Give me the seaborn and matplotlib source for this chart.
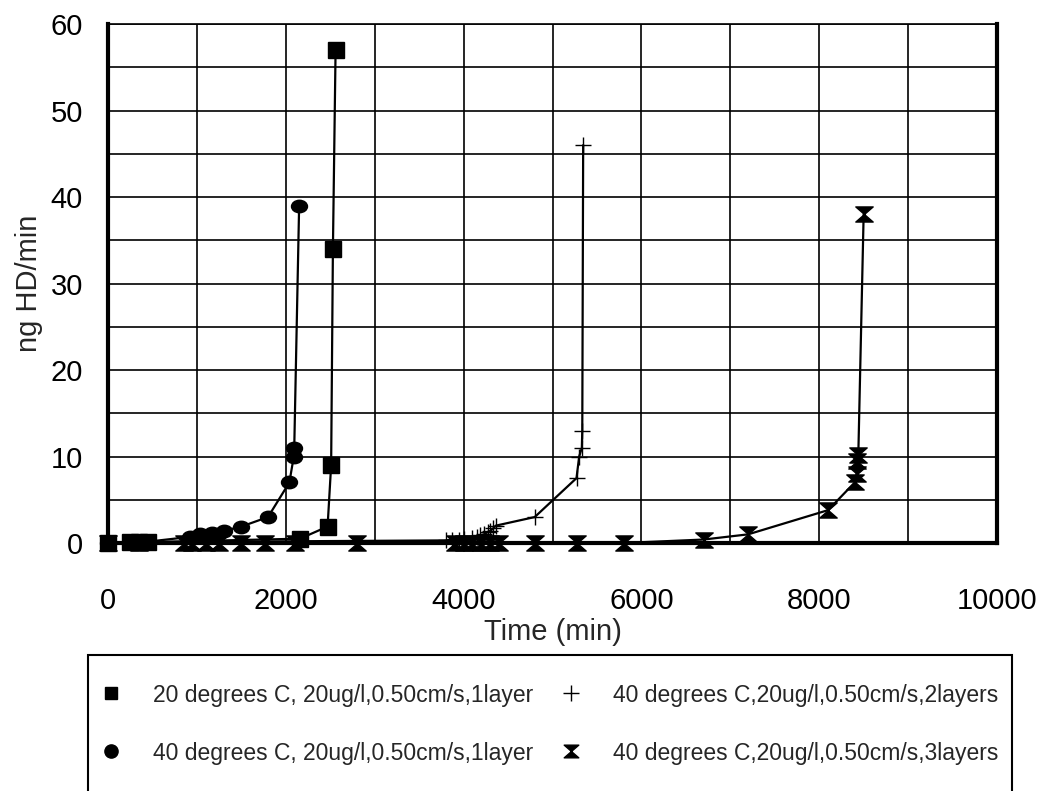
import numpy as np
import matplotlib
matplotlib.use("Agg")
import matplotlib.pyplot as plt
from matplotlib.lines import Line2D
from matplotlib.patches import Rectangle
from matplotlib.path import Path
from matplotlib.ticker import MultipleLocator
import seaborn as sns

# Breakthrough rate of HD (ng/min) versus time (min) for four test conditions
sq_time = [0, 250, 350, 450, 2160, 2470, 2510, 2530, 2560]
sq_rate = [0, 0.1, 0.1, 0.1, 0.5, 1.9, 9, 34, 57]

ci_time = [0, 300, 400, 920, 1035, 1170, 1300, 1500, 1800, 2040, 2090, 2095, 2150]
ci_rate = [0, 0.1, 0.1, 0.7, 1.0, 1.2, 1.4, 1.9, 3.0, 7, 10, 11, 39]

pl_time = [0, 300, 400, 3800, 3870, 3950, 4000, 4090, 4150, 4190, 4230, 4275,
           4300, 4335, 4360, 4800, 5270, 5300, 5330, 5335, 5345]
pl_rate = [0, 0.1, 0.1, 0.3, 0.4, 0.4, 0.5, 0.6, 0.7, 0.9, 1.0, 1.3,
           1.4, 1.7, 2.0, 3.0, 7.5, 10, 11, 13, 46]

hg_time = [0, 350, 850, 950, 1100, 1250, 1500, 1770, 2100, 2800, 3900, 4000,
           4100, 4200, 4300, 4400, 4800, 5280, 5800, 6700, 7200, 8100, 8400,
           8420, 8430, 8440, 8500]
hg_rate = [0, 0, 0, 0, 0, 0, 0, 0, 0, 0, 0, 0,
           0, 0, 0, 0, 0, 0, 0, 0.4, 1.0, 3.8, 7.0, 8.0, 9.5, 10.2, 38]

labels = [
    "20 degrees C, 20ug/l,0.50cm/s,1layer",
    "40 degrees C, 20ug/l,0.50cm/s,1layer",
    "40 degrees C,20ug/l,0.50cm/s,2layers",
    "40 degrees C,20ug/l,0.50cm/s,3layers",
]

x_ticks = [0, 2000, 4000, 6000, 8000, 10000]
y_ticks = [0, 10, 20, 30, 40, 50, 60]

# hourglass marker: two filled triangles meeting at their tips
hourglass = Path(
    [(-1.15, 1), (1.15, 1), (0, 0), (-1.15, 1),
     (-1.15, -1), (1.15, -1), (0, 0), (-1.15, -1)],
    [Path.MOVETO, Path.LINETO, Path.LINETO, Path.CLOSEPOLY,
     Path.MOVETO, Path.LINETO, Path.LINETO, Path.CLOSEPOLY],
)

# slightly flattened dot
_circ = Path.unit_circle()
ellipse = Path(_circ.vertices * np.array([1.0, 0.78]), _circ.codes)

sns.set_style("white")
plt.rcParams["font.family"] = ["Liberation Sans", "DejaVu Sans"]

W, H = 1040, 791
fig = plt.figure(figsize=(W / 100, H / 100), dpi=100)
ax = fig.add_axes([108 / W, 1 - 543 / H, 889 / W, 519 / H])

styles = [
    (sq_time, sq_rate, "s", 11, 1.0),
    (ci_time, ci_rate, ellipse, 11.5, 1.0),
    (pl_time, pl_rate, "+", 12, 1.0),
    (hg_time, hg_rate, hourglass, 12.5, 1.0),
]
legend_sizes = [9, 9.5, 12, 10.5]

proxies = []
for (t, v, mk, ms, mew), lab, lms in zip(styles, labels, legend_sizes):
    sns.lineplot(x=t, y=v, ax=ax, sort=False, estimator=None, color="black",
                 linewidth=1.6, marker=mk, markersize=ms,
                 markerfacecolor="black", markeredgecolor="black",
                 markeredgewidth=mew, clip_on=False, zorder=3)
    proxies.append(Line2D([], [], linestyle="none",
                          marker=("o" if mk is ellipse else mk),
                          markersize=lms, markerfacecolor="black",
                          markeredgecolor="black", markeredgewidth=mew))

if ax.get_legend() is not None:
    ax.get_legend().remove()

ax.set_xlim(0, 10000)
ax.set_ylim(0, 60)
ax.set_xticks(x_ticks)
ax.set_yticks(y_ticks)
ax.xaxis.set_minor_locator(MultipleLocator(1000))
ax.yaxis.set_minor_locator(MultipleLocator(5))
ax.set_axisbelow(True)
ax.grid(True, which="both", color="black", linewidth=1.2)

ax.tick_params(axis="both", which="both", direction="out", color="black",
               width=1.5, labelcolor="black", labelsize=21)
ax.tick_params(axis="x", which="major", length=5, pad=26.5)
ax.tick_params(axis="x", which="minor", length=5)
ax.tick_params(axis="y", which="major", length=5.8, pad=12.2)
ax.tick_params(axis="y", which="minor", length=2.9)

for side in ["left", "right", "bottom"]:
    ax.spines[side].set_linewidth(3)
    ax.spines[side].set_color("black")
ax.spines["top"].set_linewidth(1.2)
ax.spines["top"].set_color("black")

ax.set_xlabel("Time (min)", fontsize=21, labelpad=2)
ax.set_ylabel("ng HD/min", fontsize=21)
ax.yaxis.set_label_coords(-0.073, 0.5)

# legend box running off the lower edge of the figure
fig.patches.append(Rectangle((88 / W, -0.05), (1012 - 88) / W,
                             (1 - 655 / H) + 0.05, transform=fig.transFigure,
                             facecolor="white", edgecolor="black",
                             linewidth=1.5, zorder=0))

leg = fig.legend(proxies, labels, ncol=2, loc="upper left",
                 bbox_to_anchor=(99.5 / W, 1 - 684 / H),
                 bbox_transform=fig.transFigure, frameon=False,
                 fontsize=16.5, handlelength=1.0, handleheight=1.0,
                 handletextpad=1.33, columnspacing=1.16,
                 labelspacing=1.5, borderpad=0, borderaxespad=0)

fig.savefig("out.png", dpi=100)
